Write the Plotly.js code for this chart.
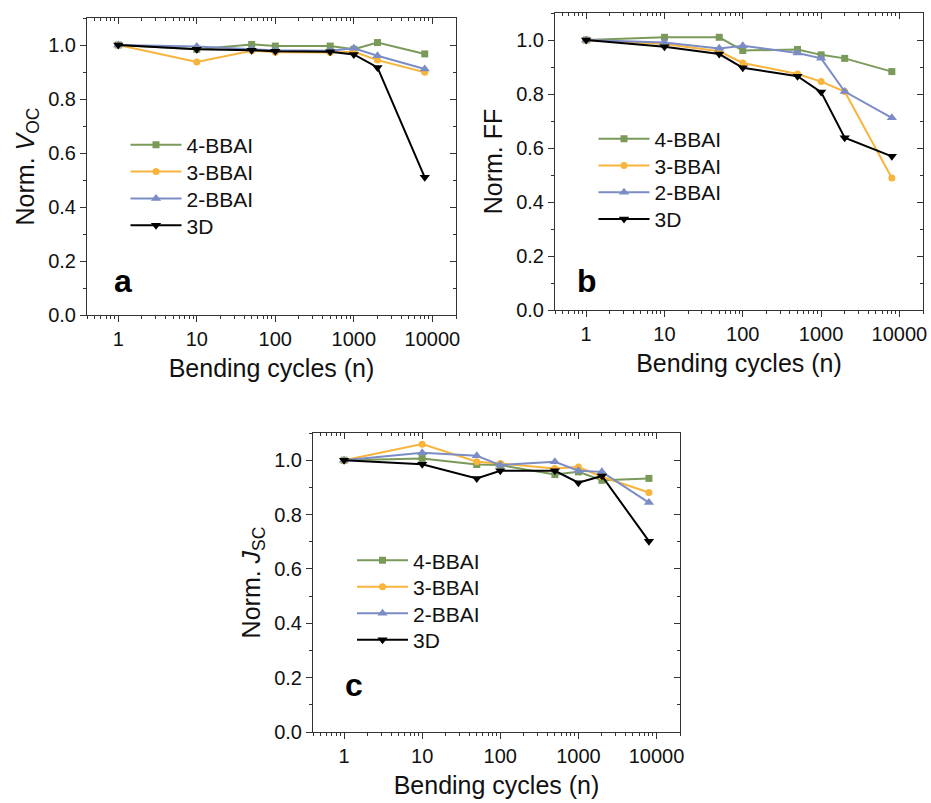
<!DOCTYPE html>
<html>
<head>
<meta charset="utf-8">
<script src="https://cdn.plot.ly/plotly-3.0.1.min.js"></script>
<style>html,body{margin:0;padding:0;background:#fff;}#plot{width:931px;height:803px;}</style>
</head>
<body>
<div id="plot"></div>
<script>
// Bending cycles
const cycles = [1, 10, 50, 100, 500, 1000, 2000, 8000];
const seriesNames = ["4-BBAI", "3-BBAI", "2-BBAI", "3D"];

// Panel a: normalized Voc
const voc_4BBAI = [1.000, 0.984, 1.002, 0.996, 0.996, 0.984, 1.009, 0.967];
const voc_3BBAI = [1.000, 0.937, 0.979, 0.973, 0.972, 0.975, 0.944, 0.899];
const voc_2BBAI = [1.000, 0.994, 0.984, 0.981, 0.979, 0.988, 0.960, 0.911];
const voc_3D    = [1.000, 0.984, 0.981, 0.977, 0.975, 0.965, 0.917, 0.510];

// Panel b: normalized FF
const ff_4BBAI = [1.000, 1.010, 1.010, 0.961, 0.965, 0.945, 0.932, 0.883];
const ff_3BBAI = [1.000, 0.985, 0.958, 0.915, 0.874, 0.846, 0.809, 0.489];
const ff_2BBAI = [1.000, 0.991, 0.969, 0.979, 0.952, 0.932, 0.809, 0.712];
const ff_3D    = [1.000, 0.975, 0.948, 0.897, 0.866, 0.807, 0.638, 0.569];

// Panel c: normalized Jsc
const jsc_4BBAI = [1.000, 1.006, 0.984, 0.982, 0.947, 0.957, 0.926, 0.933];
const jsc_3BBAI = [1.000, 1.059, 0.994, 0.988, 0.969, 0.975, 0.939, 0.881];
const jsc_2BBAI = [1.000, 1.027, 1.016, 0.982, 0.994, 0.961, 0.957, 0.844];
const jsc_3D    = [1.000, 0.985, 0.933, 0.961, 0.961, 0.917, 0.942, 0.702];

const yTickVals = [0, 0.2, 0.4, 0.6, 0.8, 1.0];
const yTickText = ["0.0", "0.2", "0.4", "0.6", "0.8", "1.0"];
const xTickVals = [1, 10, 100, 1000, 10000];
const xTickText = ["1", "10", "100", "1000", "10000"];
const xMinorVals = [];
[0.1, 1, 10, 100, 1000, 10000].forEach(d => { for (let k = 2; k <= 9; k++) xMinorVals.push(k * d); });

const colors = ["#7A9A5A", "#F9B43C", "#7C8DC6", "#000000"];
const symbols = ["square", "circle", "triangle-up", "triangle-down"];

const FONT = "Liberation Sans, Arial, sans-serif";
const W = 931, H = 803;

// legend item placement (px): sample-line start x, first item center y, item step
const panels = [
  {data: [voc_4BBAI, voc_3BBAI, voc_2BBAI, voc_3D], xa: "x", ya: "y", ox: "x4", oy: "y4", lx: 131.5, ly: 145, step: 26.9},
  {data: [ff_4BBAI, ff_3BBAI, ff_2BBAI, ff_3D], xa: "x2", ya: "y2", ox: "x5", oy: "y5", lx: 599.5, ly: 139, step: 26.8},
  {data: [jsc_4BBAI, jsc_3BBAI, jsc_2BBAI, jsc_3D], xa: "x3", ya: "y3", ox: "x6", oy: "y6", lx: 358, ly: 560.7, step: 26.5}
];

const traces = [];
const legends = {};
let legIdx = 1;
panels.forEach(p => {
  p.data.forEach((vals, i) => {
    const key = legIdx === 1 ? "legend" : "legend" + legIdx;
    legends[key] = {
      x: (p.lx - 6) / W, y: 1 - (p.ly + i * p.step) / H, xanchor: "left", yanchor: "middle",
      bgcolor: "rgba(0,0,0,0)", borderwidth: 0,
      font: {family: FONT, size: 21, color: "#111"},
      itemwidth: 51, tracegroupgap: 0
    };
    traces.push({
      type: "scatter", mode: "lines+markers",
      x: cycles, y: vals, name: seriesNames[i],
      xaxis: p.xa, yaxis: p.ya, legend: key,
      line: {color: colors[i], width: 2},
      marker: {symbol: symbols[i], color: colors[i], size: symbols[i].startsWith("triangle") ? 9 : 7}
    });
    legIdx++;
  });
  // empty trace to create the mirrored (top/right) frame axes
  traces.push({type: "scatter", mode: "markers", x: [], y: [], xaxis: p.ox, yaxis: p.oy, showlegend: false, hoverinfo: "skip"});
});

const XR = [Math.log10(0.4), Math.log10(20000)];
const YR = [0, 1.1];
const axColor = "#333";

function xMain(domain, anchor) {
  return {
    type: "log", range: XR, domain: domain, anchor: anchor,
    tickmode: "array", tickvals: xTickVals, ticktext: xTickText,
    ticks: "outside", ticklen: 6, tickcolor: axColor, tickwidth: 1,
    minor: {tickmode: "array", tickvals: xMinorVals, ticks: "outside", ticklen: 3, tickcolor: axColor, showgrid: false},
    showline: true, linecolor: axColor, linewidth: 1, showgrid: false, zeroline: false,
    tickfont: {family: FONT, size: 20, color: "#111"},
    title: {text: "Bending cycles (n)", font: {family: FONT, size: 25, color: "#111"}, standoff: 10},
    automargin: false
  };
}
function yMain(domain, anchor, title) {
  return {
    range: YR, domain: domain, anchor: anchor,
    tickmode: "array", tickvals: yTickVals, ticktext: yTickText,
    ticks: "outside", ticklen: 6, tickcolor: axColor, tickwidth: 1,
    minor: {ticks: "outside", ticklen: 3, dtick: 0.1, tick0: 0, tickcolor: axColor, showgrid: false},
    showline: true, linecolor: axColor, linewidth: 1, showgrid: false, zeroline: false,
    tickfont: {family: FONT, size: 20, color: "#111"},
    title: {text: title, font: {family: FONT, size: 25, color: "#111"}, standoff: 6},
    automargin: false
  };
}
function xTop(over, anchor) {
  return {
    type: "log", range: XR, overlaying: over, side: "top", anchor: anchor,
    tickmode: "array", tickvals: xTickVals, showticklabels: false,
    ticks: "inside", ticklen: 6, tickcolor: axColor,
    minor: {tickmode: "array", tickvals: xMinorVals, ticks: "inside", ticklen: 3, tickcolor: axColor, showgrid: false},
    showline: true, linecolor: axColor, linewidth: 1, showgrid: false, zeroline: false
  };
}
function yRight(over, anchor) {
  return {
    range: YR, overlaying: over, side: "right", anchor: anchor,
    tickmode: "array", tickvals: yTickVals, showticklabels: false,
    ticks: "inside", ticklen: 6, tickcolor: axColor,
    minor: {ticks: "inside", ticklen: 3, dtick: 0.1, tick0: 0, tickcolor: axColor, showgrid: false},
    showline: true, linecolor: axColor, linewidth: 1, showgrid: false, zeroline: false
  };
}

const dx = (a, b) => [a / W, b / W];
const dy = (top, bot) => [1 - bot / H, 1 - top / H];

const layout = Object.assign({
  width: W, height: H,
  margin: {l: 0, r: 0, t: 0, b: 0},
  paper_bgcolor: "#fff", plot_bgcolor: "#fff",
  showlegend: true,
  xaxis: xMain(dx(87, 456), "y"),
  yaxis: yMain(dy(18, 315), "x", "Norm. <i>V</i><sub>OC</sub>"),
  xaxis2: xMain(dx(555, 923), "y2"),
  yaxis2: yMain(dy(13, 310), "x2", "Norm. FF"),
  xaxis3: xMain(dx(313, 680), "y3"),
  yaxis3: yMain(dy(433, 732), "x3", "Norm. <i>J</i><sub>SC</sub>"),
  xaxis4: xTop("x", "y4"),
  yaxis4: yRight("y", "x4"),
  xaxis5: xTop("x2", "y5"),
  yaxis5: yRight("y2", "x5"),
  xaxis6: xTop("x3", "y6"),
  yaxis6: yRight("y3", "x6"),
  annotations: [
    {text: "<b>a</b>", x: 112 / W, y: 1 - 281 / H, xref: "paper", yref: "paper", showarrow: false, font: {family: FONT, size: 32, color: "#000"}},
    {text: "<b>b</b>", x: 586.5 / W, y: 1 - 281 / H, xref: "paper", yref: "paper", showarrow: false, font: {family: FONT, size: 32, color: "#000"}},
    {text: "<b>c</b>", x: 354 / W, y: 1 - 704.5 / H, xref: "paper", yref: "paper", showarrow: false, font: {family: FONT, size: 32, color: "#000"}}
  ]
}, legends);

Plotly.newPlot("plot", traces, layout, {staticPlot: true, displayModeBar: false});
</script>
</body>
</html>
